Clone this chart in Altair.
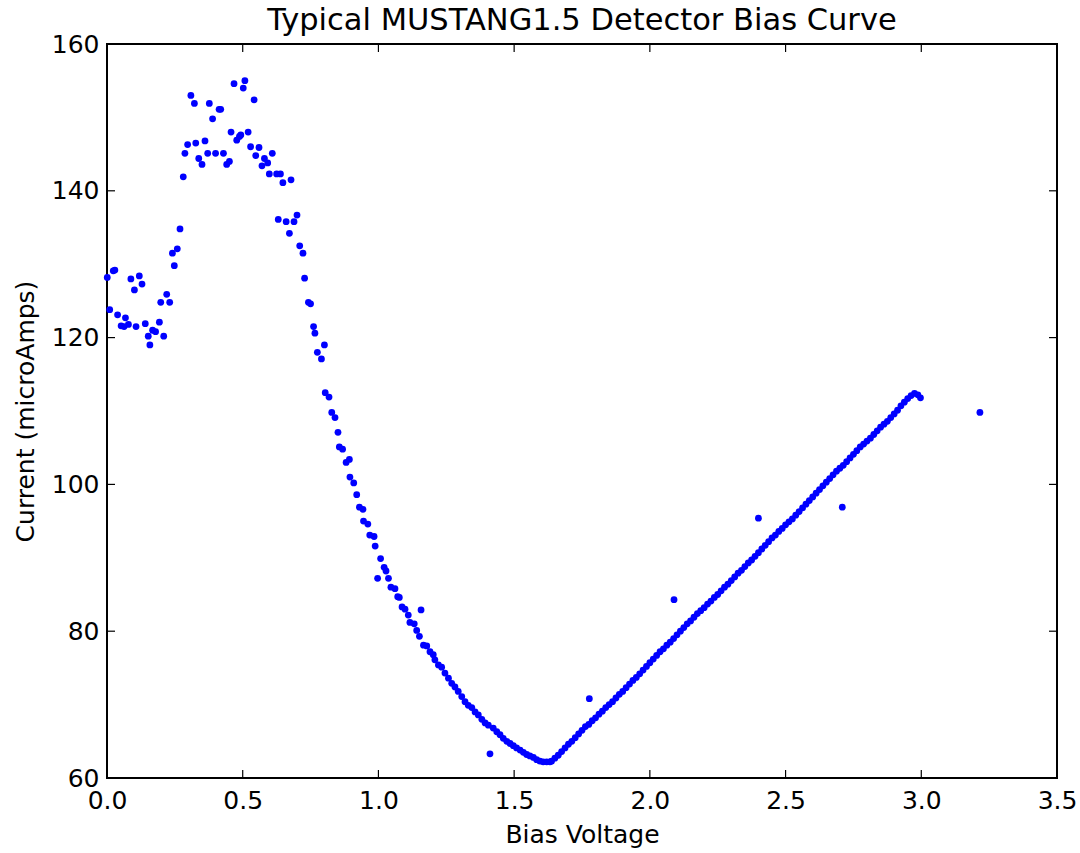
import altair as alt
import pandas as pd

# ---- data ----
early_x = [0.001, 0.023, 0.029, 0.088, 0.119, 0.101, 0.129, 0.010, 0.039, 0.068,
           0.052, 0.063, 0.079, 0.107, 0.141, 0.152, 0.168, 0.179, 0.193, 0.158,
           0.209, 0.220, 0.198, 0.231, 0.241, 0.259, 0.248, 0.269, 0.281, 0.287,
           0.297, 0.309, 0.322, 0.327, 0.338, 0.350, 0.361, 0.371, 0.377, 0.389,
           0.400, 0.413, 0.419, 0.429, 0.441, 0.451, 0.457, 0.468, 0.478, 0.488,
           0.493, 0.502, 0.508, 0.520, 0.529, 0.542, 0.548, 0.560, 0.571, 0.580,
           0.592, 0.609, 0.598, 0.625, 0.639, 0.648, 0.678, 0.631, 0.660, 0.689,
           0.700, 0.672, 0.710, 0.722, 0.728, 0.742, 0.750, 0.761, 0.766, 0.775]
early_y = [128.2, 129.1, 129.2, 128.0, 128.4, 126.5, 127.3, 123.8, 123.1, 122.7,
           121.6, 121.5, 121.8, 121.5, 121.9, 120.2, 121.0, 120.8, 122.1, 119.0,
           120.2, 125.9, 124.8, 124.8, 131.5, 132.1, 129.8, 134.8, 141.9, 145.1,
           146.3, 153.0, 151.9, 146.5, 144.4, 143.6, 146.8, 145.1, 151.9, 149.8,
           145.1, 151.1, 151.1, 145.1, 143.6, 144.0, 148.0, 154.6, 146.9, 147.4,
           147.6, 154.0, 155.0, 148.0, 146.0, 152.4, 144.8, 145.9, 143.4, 144.4,
           143.8, 145.1, 142.3, 142.3, 142.3, 141.1, 141.5, 136.1, 135.8, 135.8,
           136.7, 134.2, 132.5, 131.5, 128.1, 124.8, 124.6, 121.5, 120.6, 118.0]

desc_x = [0.790, 0.801, 0.804, 0.818, 0.828, 0.840, 0.851, 0.856, 0.868, 0.881,
          0.893, 0.895, 0.909, 0.920, 0.930, 0.943, 0.945, 0.961, 0.968, 0.984,
          0.988, 1.008, 1.021, 1.028, 1.037, 1.046, 1.061, 1.071, 1.077, 1.087,
          1.098, 1.110, 1.116, 1.132, 1.141, 1.151, 1.166, 1.178, 1.190, 1.202,
          1.208, 1.221, 1.233, 1.245, 1.258, 1.270, 1.282, 1.294, 1.307, 1.319,
          1.331, 1.344, 1.356, 1.368, 1.381, 1.393, 1.405, 1.423, 1.436, 1.448,
          1.460, 1.473, 1.485, 1.497, 1.509, 1.522, 1.534, 1.546, 1.558, 1.571,
          1.583, 1.595, 1.607, 1.620, 1.632, 1.638]
desc_y = [117.1, 119.0, 112.5, 111.9, 109.8, 109.1, 107.1, 105.1, 104.8, 103.0,
          103.4, 101.0, 100.2, 98.6, 96.9, 96.6, 95.0, 94.6, 93.1, 92.9,
          91.6, 89.9, 88.7, 88.2, 87.2, 86.0, 85.8, 84.7, 84.6, 83.3,
          83.0, 82.2, 81.2, 81.0, 80.1, 79.3, 78.1, 78.0, 77.2, 76.8,
          76.1, 75.4, 75.1, 74.3, 73.6, 72.9, 72.4, 71.8, 71.1, 70.4,
          69.9, 69.6, 69.0, 68.6, 68.0, 67.5, 67.2, 66.8, 66.3, 65.9,
          65.4, 65.0, 64.7, 64.4, 64.1, 63.8, 63.5, 63.2, 63.0, 62.8,
          62.5, 62.3, 62.2, 62.2, 62.2, 62.3]

asc_x = [1.650, 1.6625, 1.675, 1.6875, 1.700, 1.7125, 1.725, 1.7375, 1.750, 1.7625,
         1.775, 1.7875, 1.800, 1.8125, 1.825, 1.8375, 1.850, 1.8625, 1.875, 1.8875,
         1.900, 1.9125, 1.925, 1.9375, 1.950, 1.9625, 1.975, 1.9875, 2.000, 2.0125,
         2.025, 2.0375, 2.050, 2.0625, 2.075, 2.0875, 2.100, 2.1125, 2.125, 2.1375,
         2.150, 2.1625, 2.175, 2.1875, 2.200, 2.2125, 2.225, 2.2375, 2.250, 2.2625,
         2.275, 2.2875, 2.300, 2.3125, 2.325, 2.3375, 2.350, 2.3625, 2.375, 2.3875,
         2.400, 2.4125, 2.425, 2.4375, 2.450, 2.4625, 2.475, 2.4875, 2.500, 2.5125,
         2.525, 2.5375, 2.550, 2.5625, 2.575, 2.5875, 2.600, 2.6125, 2.625, 2.6375,
         2.650, 2.6625, 2.675, 2.6875, 2.700, 2.7125, 2.725, 2.7375, 2.750, 2.7625,
         2.775, 2.7875, 2.800, 2.8125, 2.825, 2.8375, 2.850, 2.8625, 2.875, 2.8875,
         2.900, 2.9125, 2.925, 2.9375, 2.950, 2.9625, 2.975, 2.9875, 2.997]
asc_y = [62.7, 63.1, 63.6, 64.1, 64.6, 65.0, 65.5, 66.0, 66.5, 67.0,
         67.3, 67.8, 68.2, 68.7, 69.1, 69.6, 70.0, 70.4, 70.9, 71.4,
         71.8, 72.3, 72.8, 73.3, 73.7, 74.2, 74.7, 75.2, 75.7, 76.2,
         76.7, 77.2, 77.6, 78.1, 78.5, 79.0, 79.5, 80.0, 80.5, 81.0,
         81.4, 81.9, 82.4, 82.8, 83.2, 83.7, 84.1, 84.6, 85.0, 85.5,
         86.0, 86.4, 86.9, 87.4, 87.9, 88.3, 88.8, 89.3, 89.7, 90.2,
         90.7, 91.2, 91.7, 92.2, 92.7, 93.1, 93.6, 94.0, 94.5, 94.9,
         95.3, 95.8, 96.3, 96.8, 97.3, 97.8, 98.3, 98.8, 99.3, 99.8,
         100.3, 100.8, 101.3, 101.8, 102.2, 102.6, 103.1, 103.6, 104.1, 104.6,
         105.1, 105.5, 105.9, 106.3, 106.8, 107.3, 107.8, 108.2, 108.6, 109.1,
         109.6, 110.1, 110.7, 111.2, 111.7, 112.1, 112.4, 112.2, 111.8]

outlier_x = [0.997, 1.157, 1.411, 1.777, 2.089, 2.400, 2.709, 3.216]
outlier_y = [87.2, 82.9, 63.3, 70.8, 84.3, 95.4, 96.9, 109.8]

x_tick_values = [0.0, 0.5, 1.0, 1.5, 2.0, 2.5, 3.0, 3.5]
y_tick_values = [60, 80, 100, 120, 140, 160]
inner_x_ticks = [0.5, 1.0, 1.5, 2.0, 2.5, 3.0]
inner_y_ticks = [80, 100, 120, 140]

W, H = 950, 734
FONT = "DejaVu Sans"

df = pd.DataFrame({
    "voltage": early_x + desc_x + asc_x + outlier_x,
    "current": early_y + desc_y + asc_y + outlier_y,
})

xscale = alt.Scale(domain=[0, 3.5], nice=False, zero=False)
yscale = alt.Scale(domain=[60, 160], nice=False, zero=False)

points = alt.Chart(df).mark_circle(size=46, color="#0000ff", opacity=1).encode(
    x=alt.X("voltage:Q", scale=xscale, title="Bias Voltage",
            axis=alt.Axis(values=x_tick_values, format=".1f", grid=False, ticks=False,
                          domain=False, labelFont=FONT, labelFontSize=25, labelColor="black",
                          labelPadding=10, titleFont=FONT, titleFontSize=25,
                          titleFontWeight="normal", titleColor="black", titlePadding=9,
                          labelFlush=False)),
    y=alt.Y("current:Q", scale=yscale, title="Current (microAmps)",
            axis=alt.Axis(values=y_tick_values, format="d", grid=False, ticks=False,
                          domain=False, labelFont=FONT, labelFontSize=25, labelColor="black",
                          labelPadding=8, titleFont=FONT, titleFontSize=25,
                          titleFontWeight="normal", titleColor="black", titlePadding=13,
                          labelFlush=False)),
)

xt = pd.DataFrame({"v": inner_x_ticks})
yt = pd.DataFrame({"v": inner_y_ticks})

tick_style = dict(color="black", strokeWidth=1.2)
bottom_ticks = alt.Chart(xt).mark_rule(**tick_style).encode(
    x=alt.X("v:Q", scale=xscale), y=alt.value(H), y2=alt.value(H - 8))
top_ticks = alt.Chart(xt).mark_rule(**tick_style).encode(
    x=alt.X("v:Q", scale=xscale), y=alt.value(0), y2=alt.value(8))
left_ticks = alt.Chart(yt).mark_rule(**tick_style).encode(
    y=alt.Y("v:Q", scale=yscale), x=alt.value(0), x2=alt.value(8))
right_ticks = alt.Chart(yt).mark_rule(**tick_style).encode(
    y=alt.Y("v:Q", scale=yscale), x=alt.value(W), x2=alt.value(W - 8))

chart = alt.layer(points, bottom_ticks, top_ticks, left_ticks, right_ticks).properties(
    width=W, height=H,
    title=alt.TitleParams("Typical MUSTANG1.5 Detector Bias Curve", font=FONT,
                          fontSize=30.5, fontWeight="normal", color="black", offset=-4),
    autosize=alt.AutoSizeParams(type="none"),
    padding={"left": 107, "top": 44, "right": 23, "bottom": 75},
).configure(background="white").configure_view(stroke="black", strokeWidth=2)

chart.save("out.html", embed_options={"renderer": "svg", "actions": False})
